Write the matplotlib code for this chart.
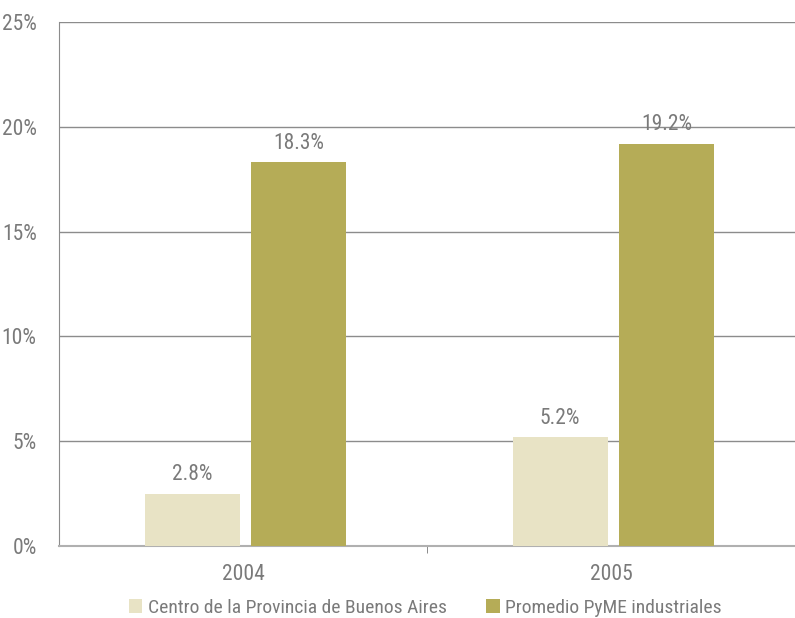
import matplotlib
matplotlib.use('Agg')
import matplotlib.pyplot as plt
import numpy as np
from matplotlib import font_manager

years = ['2004', '2005']
centro = [2.5, 5.2]
pyme = [18.3, 19.2]
centro_labels = ['2.8%', '5.2%']
pyme_labels = ['18.3%', '19.2%']
series_names = ['Centro de la Provincia de Buenos Aires', 'Promedio PyME industriales']

# buscar una fuente angosta si existe
names = {f.name for f in font_manager.fontManager.ttflist}
cands = ['Liberation Sans Narrow', 'Roboto Condensed', 'Open Sans Condensed',
         'DejaVu Sans Condensed', 'Liberation Sans']
fams = [c for c in cands if c in names] + ['DejaVu Sans']
plt.rcParams['font.family'] = fams

txt = '#7a7a7a'
c1 = '#e8e3c5'
c2 = '#b5ac57'

fig = plt.figure(figsize=(7.95, 6.18), dpi=100)
ax = fig.add_axes([59/795, 1-546/618, 1-59/795, (546-22)/618])

x = np.arange(len(years))
w = 0.258
b1 = ax.bar(x - 0.138, centro, w, color=c1, zorder=3, label=series_names[0])
b2 = ax.bar(x + 0.152, pyme, w, color=c2, zorder=3, label=series_names[1])

for bars, labs in [(b1, centro_labels), (b2, pyme_labels)]:
    for bar, lab in zip(bars, labs):
        ax.text(bar.get_x() + bar.get_width()/2, bar.get_height() + 0.4, lab,
                ha='center', va='bottom', fontsize=15.5, color=txt, zorder=4)

ax.set_ylim(0, 25)
ax.set_xlim(-0.5, 1.5)
ax.set_yticks(np.arange(0, 26, 5))
ax.set_yticklabels([f'{v}%' for v in range(0, 26, 5)])
ax.yaxis.grid(True, color='#8c8c8c', linewidth=1.0, zorder=0)
ax.set_axisbelow(True)

ax.set_xticks(x)
ax.set_xticklabels(years)
ax.set_xticks([0.5], minor=True)
ax.tick_params(axis='x', which='major', length=0, pad=13, labelsize=15.5, colors=txt)
ax.tick_params(axis='x', which='minor', length=5, color='#777777', direction='out')
ax.tick_params(axis='y', length=0, pad=16, labelsize=15.5, colors=txt)

for s in ['top', 'right']:
    ax.spines[s].set_visible(False)
ax.spines['left'].set_color('#8c8c8c')
ax.spines['bottom'].set_color('#b0b0b0')
ax.spines['bottom'].set_linewidth(1.5)

leg = fig.legend(loc='lower center', bbox_to_anchor=(0.535, -0.026), ncol=2, frameon=False,
                 fontsize=14, handlelength=0.7, handleheight=0.7, handletextpad=0.3,
                 columnspacing=2.0, labelcolor=txt)

fig.savefig('out.png', dpi=100)
